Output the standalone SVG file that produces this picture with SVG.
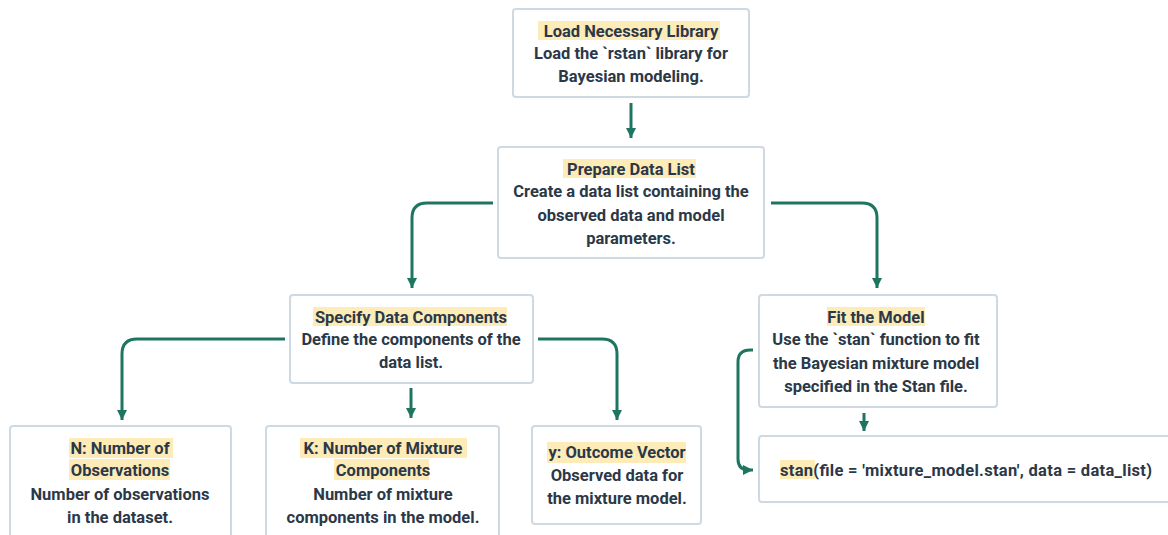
<svg xmlns="http://www.w3.org/2000/svg" width="1168" height="535" viewBox="0 0 1168 535">
  <style>
    .box { fill: #ffffff; stroke: #cfd9e2; stroke-width: 2; }
    .hl { fill: #fdebb8; }
    .t { font-family: Roboto, "Liberation Sans", sans-serif; font-weight: 700; font-size: 16.5px; fill: #2b3848; text-anchor: middle; dominant-baseline: central; }
    .edge { fill: none; stroke: #1e7560; stroke-width: 3; }
  </style>
  <defs>
    <marker id="arrow" markerUnits="userSpaceOnUse" markerWidth="12" markerHeight="10" refX="10" refY="5" orient="auto">
      <path d="M0,0 L10,5 L0,10 Z" fill="#1e7560"/>
    </marker>
  </defs>
  <rect width="1168" height="535" fill="#ffffff"/>

  <!-- connectors -->
  <g id="connectors">
    <path class="edge" d="M631,103 V138" marker-end="url(#arrow)"/>
    <path class="edge" d="M493,203 H427 Q412,203 412,218 V288" marker-end="url(#arrow)"/>
    <path class="edge" d="M771,203 H862 Q877,203 877,218 V288" marker-end="url(#arrow)"/>
    <path class="edge" d="M285,339 H137 Q122,339 122,354 V420" marker-end="url(#arrow)"/>
    <path class="edge" d="M411,388 V418" marker-end="url(#arrow)"/>
    <path class="edge" d="M538,339 H602 Q617,339 617,354 V420" marker-end="url(#arrow)"/>
    <path class="edge" d="M864,413 V431" marker-end="url(#arrow)"/>
    <path class="edge" d="M753,350 H750 Q738,350 738,362 V459 Q738,470 749,470 H753" marker-end="url(#arrow)"/>
  </g>

  <!-- Load Necessary Library -->
  <g id="load-library">
    <rect class="box" x="513" y="9" width="236" height="88" rx="3"/>
    <rect class="hl" x="538" y="21" width="182" height="19"/>
    <text class="t" x="631" y="31">Load Necessary Library</text>
    <text class="t" x="631" y="53">Load the `rstan` library for</text>
    <text class="t" x="631" y="76">Bayesian modeling.</text>
  </g>

  <!-- Prepare Data List -->
  <g id="prepare-data">
    <rect class="box" x="498" y="147" width="266" height="111" rx="3"/>
    <rect class="hl" x="563" y="159" width="133" height="19"/>
    <text class="t" x="631" y="169">Prepare Data List</text>
    <text class="t" x="631" y="191">Create a data list containing the</text>
    <text class="t" x="631" y="215">observed data and model</text>
    <text class="t" x="631" y="238">parameters.</text>
  </g>

  <!-- Specify Data Components -->
  <g id="specify-components">
    <rect class="box" x="290" y="295" width="243" height="88" rx="3"/>
    <rect class="hl" x="313" y="307" width="194" height="19"/>
    <text class="t" x="411" y="317">Specify Data Components</text>
    <text class="t" x="411" y="339">Define the components of the</text>
    <text class="t" x="411" y="362">data list.</text>
  </g>

  <!-- Fit the Model -->
  <g id="fit-model">
    <rect class="box" x="759" y="295" width="238" height="112" rx="3"/>
    <rect class="hl" x="827" y="307" width="98" height="19"/>
    <text class="t" x="876" y="317">Fit the Model</text>
    <text class="t" x="876" y="339">Use the `stan` function to fit</text>
    <text class="t" x="876" y="363">the Bayesian mixture model</text>
    <text class="t" x="876" y="386">specified in the Stan file.</text>
  </g>

  <!-- stan call -->
  <g id="stan-call">
    <rect class="box" x="759" y="436" width="420" height="66" rx="3"/>
    <rect class="hl" x="780" y="460" width="35" height="19"/>
    <text class="t" x="780" y="470" style="text-anchor: start" textLength="372" lengthAdjust="spacing">stan(file = 'mixture_model.stan', data = data_list)</text>
  </g>

  <!-- N: Number of Observations -->
  <g id="n-observations">
    <rect class="box" x="10" y="426" width="221" height="120" rx="3"/>
    <rect class="hl" x="69" y="438" width="104" height="20"/>
    <rect class="hl" x="69" y="459" width="101" height="21"/>
    <text class="t" x="120" y="448">N: Number of</text>
    <text class="t" x="120" y="470">Observations</text>
    <text class="t" x="120" y="494">Number of observations</text>
    <text class="t" x="120" y="517">in the dataset.</text>
  </g>

  <!-- K: Number of Mixture Components -->
  <g id="k-components">
    <rect class="box" x="266" y="426" width="233" height="120" rx="3"/>
    <rect class="hl" x="300" y="438" width="167" height="20"/>
    <rect class="hl" x="334" y="459" width="95" height="21"/>
    <text class="t" x="383" y="448">K: Number of Mixture</text>
    <text class="t" x="383" y="470">Components</text>
    <text class="t" x="383" y="494">Number of mixture</text>
    <text class="t" x="383" y="517">components in the model.</text>
  </g>

  <!-- y: Outcome Vector -->
  <g id="y-outcome">
    <rect class="box" x="532" y="426" width="169" height="98" rx="3"/>
    <rect class="hl" x="547" y="442" width="139" height="21"/>
    <text class="t" x="617" y="452">y: Outcome Vector</text>
    <text class="t" x="617" y="475">Observed data for</text>
    <text class="t" x="617" y="498">the mixture model.</text>
  </g>
</svg>
